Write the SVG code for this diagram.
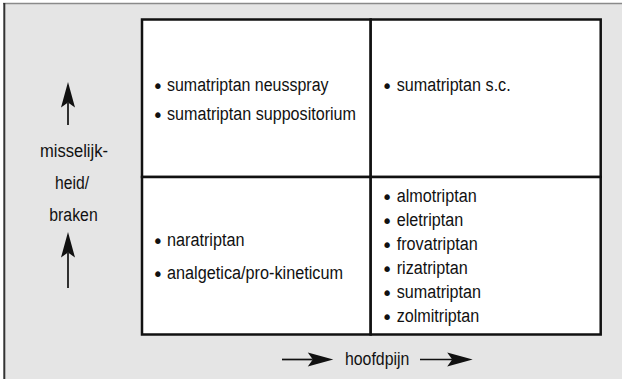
<svg xmlns="http://www.w3.org/2000/svg" width="622" height="379" viewBox="0 0 622 379">
<style>
text{font-family:"Liberation Sans",Arial,sans-serif;font-size:18px;fill:#111}
.b{font-family:"DejaVu Sans",sans-serif;font-size:19px}
.cell{fill:#fff;stroke:#111;stroke-width:2.5}
.ax{stroke:#111;stroke-width:1.7;fill:none}
</style>
<defs>
<marker id="ah" markerUnits="userSpaceOnUse" markerWidth="27" markerHeight="16" viewBox="0 -8 27 16" refX="5" refY="0" orient="auto" overflow="visible">
<path d="M25.5,0 L0,-7 L5,0 L0,7 Z" fill="#111"/>
</marker>
</defs>
<rect x="0" y="0" width="622" height="379" fill="#fff"/>
<rect x="4" y="3.5" width="620" height="380" fill="#e5e5e5"/>
<line x1="3" y1="3.5" x2="622" y2="3.5" stroke="#8a8a8a" stroke-width="1.5"/>
<line x1="4.3" y1="3" x2="4.3" y2="379" stroke="#333" stroke-width="2"/>

<g id="cell-tl">
<rect class="cell" x="142" y="19.5" width="228.7" height="157.5"/>
<text><tspan class="b" x="152.3" y="92.5">•</tspan><tspan x="167" y="91" textLength="161.5" lengthAdjust="spacingAndGlyphs">sumatriptan neusspray</tspan></text>
<text><tspan class="b" x="152.3" y="121.5">•</tspan><tspan x="167" y="120" textLength="189" lengthAdjust="spacingAndGlyphs">sumatriptan suppositorium</tspan></text>
</g>
<g id="cell-tr">
<rect class="cell" x="370.7" y="19.5" width="230" height="157.5"/>
<text><tspan class="b" x="381.6" y="92.5">•</tspan><tspan x="396.7" y="91" textLength="114" lengthAdjust="spacingAndGlyphs">sumatriptan s.c.</tspan></text>
</g>
<g id="cell-bl">
<rect class="cell" x="142" y="177" width="228.7" height="157.5"/>
<text><tspan class="b" x="152.3" y="247.5">•</tspan><tspan x="167" y="246" textLength="77.5" lengthAdjust="spacingAndGlyphs">naratriptan</tspan></text>
<text><tspan class="b" x="152.3" y="280.5">•</tspan><tspan x="167" y="279" textLength="176" lengthAdjust="spacingAndGlyphs">analgetica/pro-kineticum</tspan></text>
</g>
<g id="cell-br">
<rect class="cell" x="370.7" y="177" width="230" height="157.5"/>
<text><tspan class="b" x="381.6" y="203.5">•</tspan><tspan x="396.7" y="202" textLength="80" lengthAdjust="spacingAndGlyphs">almotriptan</tspan></text>
<text><tspan class="b" x="381.6" y="227.5">•</tspan><tspan x="396.7" y="226" textLength="66.5" lengthAdjust="spacingAndGlyphs">eletriptan</tspan></text>
<text><tspan class="b" x="381.6" y="251.5">•</tspan><tspan x="396.7" y="250" textLength="81" lengthAdjust="spacingAndGlyphs">frovatriptan</tspan></text>
<text><tspan class="b" x="381.6" y="275.5">•</tspan><tspan x="396.7" y="274" textLength="71" lengthAdjust="spacingAndGlyphs">rizatriptan</tspan></text>
<text><tspan class="b" x="381.6" y="299.5">•</tspan><tspan x="396.7" y="298" textLength="84.3" lengthAdjust="spacingAndGlyphs">sumatriptan</tspan></text>
<text><tspan class="b" x="381.6" y="323.5">•</tspan><tspan x="396.7" y="322" textLength="82.5" lengthAdjust="spacingAndGlyphs">zolmitriptan</tspan></text>
</g>
<g id="label-y">
<text x="40" y="157" textLength="68" lengthAdjust="spacingAndGlyphs">misselijk-</text>
<text x="55" y="189" textLength="34" lengthAdjust="spacingAndGlyphs">heid/</text>
<text x="49.3" y="221" textLength="48.4" lengthAdjust="spacingAndGlyphs">braken</text>
</g>
<g id="label-x">
<text x="345" y="365" textLength="64.3" lengthAdjust="spacingAndGlyphs">hoofdpijn</text>
</g>
<g id="connectors">
<line class="ax" x1="68" y1="125" x2="68" y2="102.5" marker-end="url(#ah)"/>
<line class="ax" x1="68" y1="288" x2="68" y2="252.5" marker-end="url(#ah)"/>
<line class="ax" x1="282" y1="359.5" x2="312.8" y2="359.5" marker-end="url(#ah)"/>
<line class="ax" x1="420" y1="359.5" x2="452.2" y2="359.5" marker-end="url(#ah)"/>
</g>
</svg>
